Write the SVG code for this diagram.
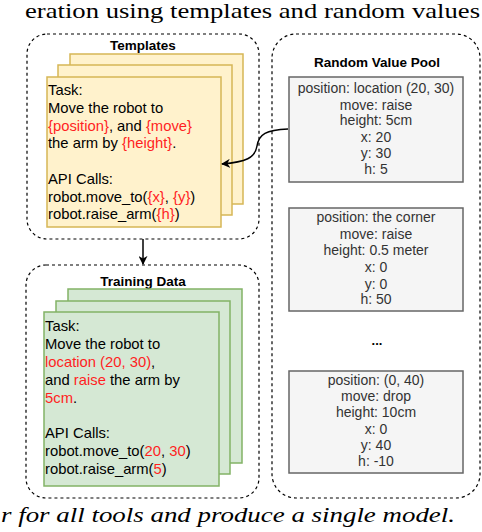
<svg xmlns="http://www.w3.org/2000/svg" width="482" height="532" viewBox="0 0 482 532">
<style>
.cont{fill:none;stroke:#000;stroke-width:1.2;stroke-dasharray:3 3}
.title{font-family:"Liberation Sans",Arial,sans-serif;font-weight:bold;font-size:13.5px;fill:#000;text-anchor:middle}
.yel{fill:#fff2cc;stroke:#d6b656;stroke-width:1.5}
.grn{fill:#d5e8d4;stroke:#82b366;stroke-width:1.5}
.gry{fill:#f5f5f5;stroke:#666;stroke-width:1.5}
.ct{font-family:"Liberation Sans",Arial,sans-serif;font-size:14.8px;fill:#000}
.gt{font-family:"Liberation Sans",Arial,sans-serif;font-size:14px;fill:#333;text-anchor:middle}
.r{fill:#ff1f1f}
.conn{fill:none;stroke:#000;stroke-width:1.5}
.serif{font-family:"Liberation Serif","Times New Roman",serif;fill:#000}
</style>
<defs>
<marker id="arr" viewBox="0 0 10 10" refX="9" refY="5" markerWidth="9" markerHeight="9" markerUnits="userSpaceOnUse" orient="auto">
<path d="M0,0 L10,5 L0,10 L3,5 Z" fill="#000"/>
</marker>
</defs>
<rect width="482" height="532" fill="#fff"/>
<text class="serif" x="25" y="18" font-size="21" textLength="455" lengthAdjust="spacingAndGlyphs">eration using templates and random values</text>
<text class="serif" x="1" y="522" font-size="22" font-style="italic" textLength="454" lengthAdjust="spacingAndGlyphs">r for all tools and produce a single model.</text>

<g id="templates">
<rect class="cont" x="27" y="34" width="232" height="205" rx="20"/>
<text class="title" x="143" y="50">Templates</text>
<rect class="yel" x="70" y="54" width="173" height="150"/>
<rect class="yel" x="58" y="65" width="174" height="150"/>
<rect class="yel" x="47" y="77" width="174" height="150"/>
<text class="ct" x="48" y="95">Task:</text>
<text class="ct" x="48" y="113">Move the robot to</text>
<text class="ct" x="48" y="130.5"><tspan class="r">{position}</tspan>, and <tspan class="r">{move}</tspan></text>
<text class="ct" x="48" y="148">the arm by <tspan class="r">{height}</tspan>.</text>
<text class="ct" x="48" y="184">API Calls:</text>
<text class="ct" x="48" y="201.5">robot.move_to(<tspan class="r">{x}</tspan>, <tspan class="r">{y}</tspan>)</text>
<text class="ct" x="48" y="219">robot.raise_arm(<tspan class="r">{h}</tspan>)</text>
</g>

<g id="training-data">
<rect class="cont" x="26" y="265" width="233" height="233" rx="20"/>
<text class="title" x="143" y="286">Training Data</text>
<rect class="grn" x="68" y="289" width="174" height="174"/>
<rect class="grn" x="56" y="301" width="174" height="173"/>
<rect class="grn" x="44" y="312" width="175" height="174"/>
<text class="ct" x="45" y="331">Task:</text>
<text class="ct" x="45" y="349">Move the robot to</text>
<text class="ct" x="45" y="367"><tspan class="r">location (20, 30)</tspan>,</text>
<text class="ct" x="45" y="385">and <tspan class="r">raise</tspan> the arm by</text>
<text class="ct" x="45" y="403"><tspan class="r">5cm</tspan>.</text>
<text class="ct" x="45" y="438">API Calls:</text>
<text class="ct" x="45" y="456">robot.move_to(<tspan class="r">20</tspan>, <tspan class="r">30</tspan>)</text>
<text class="ct" x="45" y="474">robot.raise_arm(<tspan class="r">5</tspan>)</text>
</g>

<g id="random-value-pool">
<rect class="cont" x="272" y="34" width="208" height="464" rx="24"/>
<text class="title" x="377" y="67">Random Value Pool</text>
<text x="377" y="345" font-family="Liberation Sans,Arial,sans-serif" font-weight="bold" font-size="13" text-anchor="middle">...</text>
</g>

<g id="value-set-1">
<rect class="gry" x="289" y="77" width="174" height="105"/>
<text class="gt" x="376" y="93">position: location (20, 30)</text>
<text class="gt" x="376" y="109.5">move: raise</text>
<text class="gt" x="376" y="125">height: 5cm</text>
<text class="gt" x="376" y="141.5">x: 20</text>
<text class="gt" x="376" y="158">y: 30</text>
<text class="gt" x="376" y="173.5">h: 5</text>
</g>

<g id="value-set-2">
<rect class="gry" x="289" y="208" width="174" height="103"/>
<text class="gt" x="376" y="222">position: the corner</text>
<text class="gt" x="376" y="238.5">move: raise</text>
<text class="gt" x="376" y="255">height: 0.5 meter</text>
<text class="gt" x="376" y="272">x: 0</text>
<text class="gt" x="376" y="288.5">y: 0</text>
<text class="gt" x="376" y="304">h: 50</text>
</g>

<g id="value-set-3">
<rect class="gry" x="289" y="371" width="174" height="102"/>
<text class="gt" x="376" y="385">position: (0, 40)</text>
<text class="gt" x="376" y="401">move: drop</text>
<text class="gt" x="376" y="417">height: 10cm</text>
<text class="gt" x="376" y="434">x: 0</text>
<text class="gt" x="376" y="450">y: 40</text>
<text class="gt" x="376" y="466">h: -10</text>
</g>

<g id="connectors">
<path class="conn" d="M288,129 C266,130 259,134 257,146 C255,158 246,162 222,164" marker-end="url(#arr)"/>
<path class="conn" d="M143,239 L143,264" marker-end="url(#arr)"/>
</g>
</svg>
